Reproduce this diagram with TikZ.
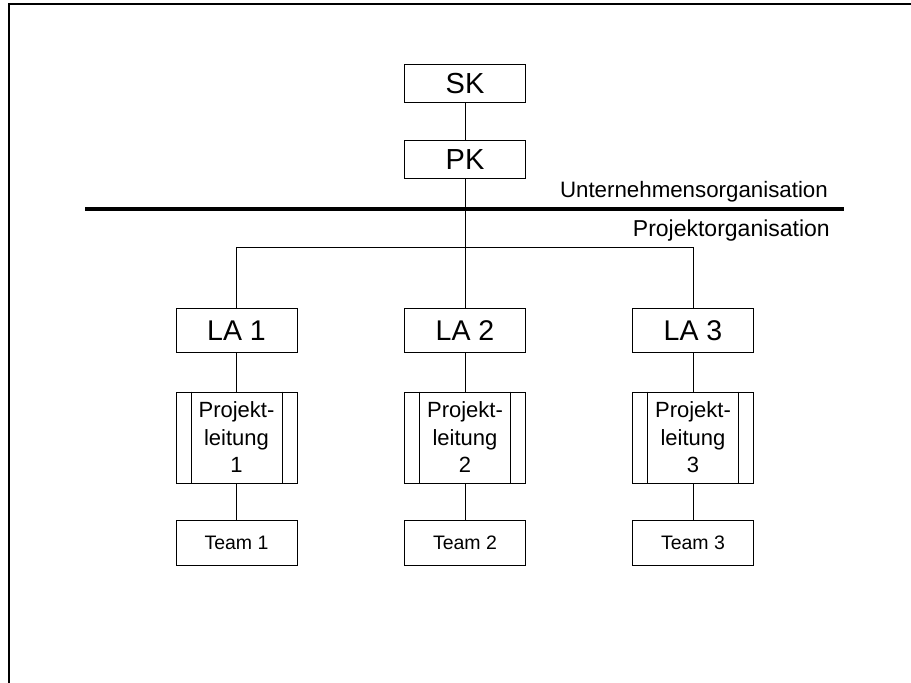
\documentclass[tikz,border=0pt]{standalone}
\usepackage{fontspec}
\setmainfont{Liberation Sans}
\begin{document}
\begin{tikzpicture}[x=1pt,y=-1pt,
  box/.style={draw, line width=0.9pt, inner sep=0pt, minimum width=121pt, anchor=center},
  topbox/.style={box, minimum height=37.5pt, font=\fontsize{29}{32}\selectfont},
  labox/.style={box, minimum height=44.5pt, font=\fontsize{28.5}{32}\selectfont},
  plbox/.style={box, minimum height=91pt, align=center, font=\fontsize{22}{27.5}\selectfont},
  teambox/.style={box, minimum height=44.5pt, font=\fontsize{19.5}{22}\selectfont},
  link/.style={line width=0.9pt},
  orglabel/.style={inner sep=0pt, anchor=base east},
  bar/.style={line width=0.9pt}
]
\useasboundingbox (0,0) rectangle (911,683);

% page frame (top and left edge)
\coordinate (frameBL) at (9,683);
\coordinate (frameTL) at (9,4);
\coordinate (frameTR) at (911,4);
\draw[line width=2.4pt, line join=miter] (frameBL) -- (frameTL) -- (frameTR);

% steering and project committee
\node[topbox] (sk) at (465,83.5) {SK};
\node[topbox] (pk) at (465,159.5) {PK};

% boundary between company and project organisation
\coordinate (sepL) at (85,209);
\coordinate (sepR) at (844,209);
\draw[line width=3.6pt] (sepL) -- (sepR);
\node[orglabel, font=\fontsize{22.3}{26}\selectfont] (uo) at (828,197) {Unternehmensorganisation};
\node[orglabel, font=\fontsize{23}{26}\selectfont] (po) at (830,236) {Projektorganisation};

% three sub-projects
\foreach \i/\x in {1/236.5, 2/465, 3/693} {
  \node[labox] (la\i) at (\x,330.5) {LA \i};
  \node[plbox] (pl\i) at (\x,437.5) {Projekt-\\leitung\\\i};
  \draw[bar] ([xshift=15.5pt]pl\i.north west) -- ([xshift=15.5pt]pl\i.south west);
  \draw[bar] ([xshift=-15.5pt]pl\i.north east) -- ([xshift=-15.5pt]pl\i.south east);
  \node[teambox] (team\i) at (\x,543) {Team \i};
  \draw[link] (la\i) -- (pl\i);
  \draw[link] (pl\i) -- (team\i);
}

% connectors
\coordinate (bus) at (465,247.5);
\draw[link] (sk) -- (pk);
\draw[link] (pk) -- (bus);
\draw[link] (la1) |- (bus) -| (la3);
\draw[link] (bus) -- (la2);
\end{tikzpicture}
\end{document}
